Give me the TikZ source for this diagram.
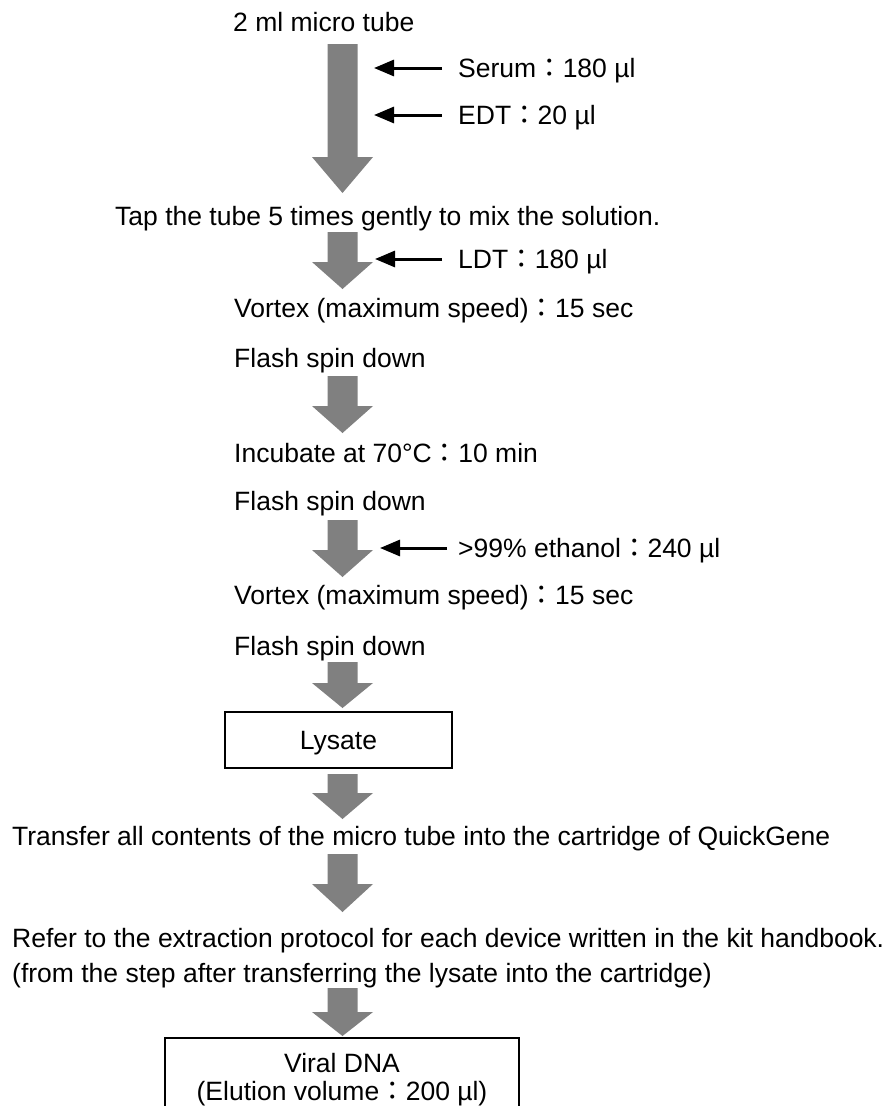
\documentclass[tikz,border=0pt]{standalone}
\usepackage{fontspec}
\setmainfont{Liberation Sans}
\newfontfamily\cjk{Noto Sans CJK JP}
\usetikzlibrary{arrows.meta}
\newcommand\fwc{{\cjk ：}}
\newcommand\FatArr[4]{% x-center, top, headstart, tip
  \fill[fatgray] (#1-15,#2) -- (#1+15,#2) -- (#1+15,#3) -- (#1+30.5,#3) -- (#1,#4) -- (#1-30.5,#3) -- (#1-15,#3) -- cycle;}
\tikzset{
  fatgray/.style={fill={rgb,255:red,128;green,128;blue,128}},
  lbl/.style={anchor=base west, inner sep=0pt, font=\fontsize{26.5}{28}\selectfont},
  clbl/.style={anchor=base, inner sep=0pt, font=\fontsize{26.5}{28}\selectfont},
  reag/.style={line width=3pt, -{Triangle[length=20pt,width=16pt]}},
  boxline/.style={draw=black, line width=1.5pt},
}
\begin{document}
\begin{tikzpicture}[x=1pt,y=-1pt]
\useasboundingbox[fill=white] (0,0) rectangle (888,1106);
% texts
\node[lbl] (tube) at (233,31) {2 ml micro tube};
\node[lbl] (serum) at (458,77) {Serum\fwc 180 µl};
\node[lbl] (edt) at (458,124) {EDT\fwc 20 µl};
\node[lbl] (tap) at (115,225) {Tap the tube 5 times gently to mix the solution.};
\node[lbl] (ldt) at (458,268) {LDT\fwc 180 µl};
\node[lbl] (vortexA) at (234,317) {Vortex (maximum speed)\fwc 15 sec};
\node[lbl] (flashA) at (234,367) {Flash spin down};
\node[lbl] (incub) at (234,462) {Incubate at 70°C\fwc 10 min};
\node[lbl] (flashB) at (234,510) {Flash spin down};
\node[lbl] (etoh) at (458,557) {>99\% ethanol\fwc 240 µl};
\node[lbl] (vortexB) at (234,604) {Vortex (maximum speed)\fwc 15 sec};
\node[lbl] (flashC) at (234,655) {Flash spin down};
\node[clbl] (lysate) at (338.5,749) {Lysate};
\node[lbl] (transfer) at (12,845) {Transfer all contents of the micro tube into the cartridge of QuickGene};
\node[lbl] (refer) at (12,947) {Refer to the extraction protocol for each device written in the kit handbook.};
\node[lbl] (from) at (12,982) {(from the step after transferring the lysate into the cartridge)};
\node[clbl] (viral) at (342,1072) {Viral DNA};
\node[clbl] (elution) at (342,1100) {(Elution volume\fwc 200 µl)};
% boxes
\draw[boxline] (225,712) rectangle (452,768);
\draw[boxline] (165,1110) -- (165,1038) -- (519,1038) -- (519,1110);
% fat arrows
\FatArr{342.5}{44}{157}{193}
\FatArr{342.5}{232}{262}{289}
\FatArr{342.5}{376}{406}{433}
\FatArr{342.5}{520}{550}{577}
\FatArr{342.5}{662}{683}{708}
\FatArr{342.5}{774}{793}{819}
\FatArr{342.5}{854}{884}{912}
\FatArr{342.5}{988}{1012}{1036}
% reagent arrows
\coordinate (serumS) at (442,68); \coordinate (serumT) at (374,68);
\coordinate (edtS) at (442,115); \coordinate (edtT) at (374,115);
\coordinate (ldtS) at (442,259); \coordinate (ldtT) at (375,259);
\coordinate (etohS) at (447,548); \coordinate (etohT) at (380,548);
\draw[reag] (serumS) -- (serumT);
\draw[reag] (edtS) -- (edtT);
\draw[reag] (ldtS) -- (ldtT);
\draw[reag] (etohS) -- (etohT);
\end{tikzpicture}
\end{document}
